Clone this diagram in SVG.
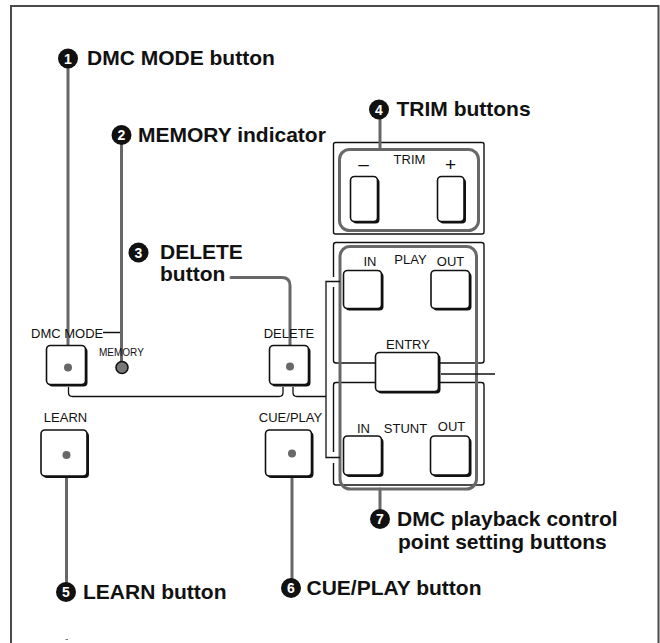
<svg xmlns="http://www.w3.org/2000/svg" width="660" height="643" viewBox="0 0 660 643">
  <style>
    .lbl { font-family: "Liberation Sans", Arial, sans-serif; font-weight: bold; font-size: 21px; fill: #111; }
    .num { font-family: "Liberation Sans", Arial, sans-serif; font-weight: bold; font-size: 14px; fill: #fff; text-anchor: middle; }
    .cap { font-family: "Liberation Sans", Arial, sans-serif; font-size: 13px; fill: #111; }
    .mid { text-anchor: middle; }
    .small { font-size: 10px; }
    .lead { fill: none; stroke: #686868; stroke-width: 3; stroke-linecap: round; stroke-linejoin: round; }
    .wire { fill: none; stroke: #111; stroke-width: 1.3; }
    .box { fill: none; stroke: #111; stroke-width: 1.4; }
    .zone { fill: none; stroke: #686868; stroke-width: 3; }
    .btn { fill: #fff; stroke: #111; stroke-width: 1.6; }
    .shade { fill: #111; }
    .dot { fill: #686868; }
    .badge { fill: #111; }
  </style>

  <!-- page frame (open at the bottom) -->
  <path d="M11 643 V6 H658.5 V643" fill="none" stroke="#4a4a4a" stroke-width="2"/>
  <path d="M65.5 639.5 H68" stroke="#777" stroke-width="1"/>

  <!-- panel outlines -->
  <g id="panel-trim">
    <rect x="333.5" y="142.5" width="150.5" height="91.5" rx="2" class="box"/>
    <rect x="339.5" y="149.5" width="139" height="81" rx="10" class="zone"/>
  </g>
  <g id="panel-play-stunt">
    <path class="box" d="M333.5 277 V245 Q333.5 242.5 336 242.5 H481.5 Q484 242.5 484 245 V360.5 Q484 363 481.5 363 H336 Q333.5 363 333.5 360.5 V287"/>
    <path class="box" d="M333.5 452 V385 Q333.5 382.5 336 382.5 H481.5 Q484 382.5 484 385 V482.5 Q484 485 481.5 485 H336 Q333.5 485 333.5 482.5 V463"/>
    <rect x="340" y="246.5" width="136.5" height="242.5" rx="10" class="zone"/>
  </g>

  <!-- connectors -->
  <g id="connectors">
    <!-- panel wiring -->
    <path class="wire" d="M103 332.5 H122 V342"/>
    <path class="wire" d="M68.5 387 V392.5 Q68.5 396.5 72.5 396.5 H279 Q283 396.5 283 392.5 V387"/>
    <path class="wire" d="M293 387 V392.5 Q293 396.5 297 396.5 H326"/>
    <path class="wire" d="M340 281.5 H326 V457.5 H340"/>
    <path class="wire" d="M441 374 H495"/>
    <!-- callout leaders -->
    <path class="lead" d="M68 68 V367.5"/>
    <path class="lead" d="M121.5 145 V367.5"/>
    <path class="lead" d="M231 277.5 H282 Q290 277.5 290 285.5 V366.5"/>
    <path class="lead" d="M380 119 V149.5"/>
    <path class="lead" d="M66.5 582 V455"/>
    <path class="lead" d="M292 578 V453.5"/>
    <path class="lead" d="M380 489 V509"/>
  </g>

  <!-- controls -->
  <g id="dmc-mode">
    <text class="cap" x="31" y="337.5">DMC MODE</text>
    <rect class="shade" x="48.5" y="347.5" width="39" height="39" rx="4"/>
    <rect class="btn" x="46.5" y="345.5" width="39" height="39" rx="4"/>
    <circle class="dot" cx="68" cy="367.5" r="4"/>
  </g>
  <g id="memory">
    <text class="cap small" x="99" y="355.5">MEMORY</text>
    <circle cx="122" cy="367.5" r="6" fill="#777" stroke="#111" stroke-width="1.6"/>
  </g>
  <g id="delete">
    <text class="cap mid" x="289" y="337.5">DELETE</text>
    <rect class="shade" x="271.5" y="347.5" width="39" height="39" rx="4"/>
    <rect class="btn" x="269.5" y="345.5" width="39" height="39" rx="4"/>
    <circle class="dot" cx="290" cy="366.5" r="4"/>
  </g>
  <g id="learn">
    <text class="cap mid" x="65.5" y="421.5">LEARN</text>
    <rect class="shade" x="43" y="432" width="46" height="46" rx="4"/>
    <rect class="btn" x="41" y="430" width="46" height="46" rx="4"/>
    <circle class="dot" cx="66.5" cy="455" r="4"/>
  </g>
  <g id="cue-play">
    <text class="cap mid" x="290.5" y="421.5">CUE/PLAY</text>
    <rect class="shade" x="267.5" y="432" width="46" height="46" rx="4"/>
    <rect class="btn" x="265.5" y="430" width="46" height="46" rx="4"/>
    <circle class="dot" cx="292" cy="453.5" r="4"/>
  </g>
  <g id="trim">
    <text class="cap mid" x="363.5" y="169.5" style="font-size:19px">–</text>
    <text class="cap mid" x="409.5" y="164">TRIM</text>
    <text class="cap mid" x="450.5" y="170.5" style="font-size:19px">+</text>
    <rect class="shade" x="352.5" y="178.5" width="27" height="45" rx="4"/>
    <rect class="btn" x="350.5" y="176.5" width="27" height="45" rx="4"/>
    <rect class="shade" x="439.5" y="178.5" width="26.5" height="45" rx="4"/>
    <rect class="btn" x="437.5" y="176.5" width="26.5" height="45" rx="4"/>
  </g>
  <g id="play">
    <text class="cap mid" x="370" y="265.5">IN</text>
    <text class="cap mid" x="410.5" y="263.5">PLAY</text>
    <text class="cap mid" x="450.5" y="265.5">OUT</text>
    <rect class="shade" x="345.5" y="272.5" width="38" height="38" rx="4"/>
    <rect class="btn" x="343.5" y="270.5" width="38" height="38" rx="4"/>
    <rect class="shade" x="433" y="272.5" width="38.5" height="38" rx="4"/>
    <rect class="btn" x="431" y="270.5" width="38.5" height="38" rx="4"/>
  </g>
  <g id="entry">
    <text class="cap mid" x="408" y="349">ENTRY</text>
    <rect class="shade" x="377.5" y="354.5" width="63" height="39" rx="4"/>
    <rect class="btn" x="375.5" y="352.5" width="63" height="39" rx="4"/>
  </g>
  <g id="stunt">
    <text class="cap mid" x="363.5" y="432.5">IN</text>
    <text class="cap mid" x="405.5" y="432.5">STUNT</text>
    <text class="cap mid" x="451.5" y="430.5">OUT</text>
    <rect class="shade" x="345.5" y="438" width="38" height="39" rx="4"/>
    <rect class="btn" x="343.5" y="436" width="38" height="39" rx="4"/>
    <rect class="shade" x="432.5" y="438" width="39" height="39" rx="4"/>
    <rect class="btn" x="430.5" y="436" width="39" height="39" rx="4"/>
  </g>

  <!-- numbered callouts -->
  <g id="callout-1">
    <circle class="badge" cx="68" cy="58.5" r="10"/>
    <text class="num" x="68" y="63.5">1</text>
    <text class="lbl" x="87" y="65">DMC MODE button</text>
  </g>
  <g id="callout-2">
    <circle class="badge" cx="121.5" cy="135" r="10"/>
    <text class="num" x="121.5" y="140">2</text>
    <text class="lbl" x="138" y="141.5">MEMORY indicator</text>
  </g>
  <g id="callout-3">
    <circle class="badge" cx="138.5" cy="252.5" r="10"/>
    <text class="num" x="138.5" y="257.5">3</text>
    <text class="lbl" x="160" y="258.5">DELETE</text>
    <text class="lbl" x="160" y="280.5">button</text>
  </g>
  <g id="callout-4">
    <circle class="badge" cx="379" cy="109.5" r="10"/>
    <text class="num" x="379" y="114.5">4</text>
    <text class="lbl" x="396.5" y="116">TRIM buttons</text>
  </g>
  <g id="callout-5">
    <circle class="badge" cx="66" cy="592" r="10"/>
    <text class="num" x="66" y="597">5</text>
    <text class="lbl" x="83" y="598.5">LEARN button</text>
  </g>
  <g id="callout-6">
    <circle class="badge" cx="291" cy="588" r="10"/>
    <text class="num" x="291" y="593">6</text>
    <text class="lbl" x="306.5" y="595">CUE/PLAY button</text>
  </g>
  <g id="callout-7">
    <circle class="badge" cx="380" cy="519" r="10"/>
    <text class="num" x="380" y="524">7</text>
    <text class="lbl" x="397" y="525.5">DMC playback control</text>
    <text class="lbl" x="398" y="548.5">point setting buttons</text>
  </g>
</svg>
